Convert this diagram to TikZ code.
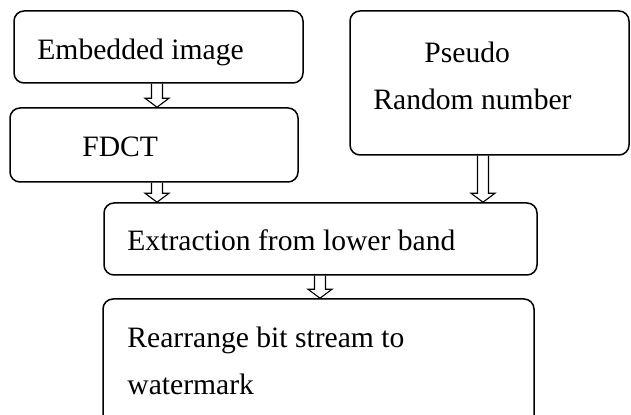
\documentclass[tikz,border=0pt]{standalone}
\usepackage{fontspec}
\setmainfont{Liberation Serif}
\usetikzlibrary{calc}

\tikzset{
  box/.style={draw, line width=0.75pt, rounded corners=5pt, inner sep=0pt},
  lbl/.style={anchor=base west, inner sep=0pt, font=\fontsize{14.8}{18}\selectfont},
  hollow/.style={draw, line width=0.55pt, line join=miter}
}

% open block arrow pointing down, from #1 to #2
\newcommand{\downblock}[2]{%
  \draw[hollow] ($(#1)+(-2.75pt,0pt)$) -- ($(#2)+(-2.75pt,4.5pt)$)
    -- ($(#2)+(-6pt,4.5pt)$) -- (#2) -- ($(#2)+(6pt,4.5pt)$)
    -- ($(#2)+(2.75pt,4.5pt)$) -- ($(#1)+(2.75pt,0pt)$);
}

\begin{document}
\begin{tikzpicture}[x=0.5pt,y=-0.5pt]
\useasboundingbox (0,0) rectangle (631,415);

% boxes
\node[box, minimum width=144.5pt, minimum height=36pt] (embed) at (158.5,47) {};
\node[box, minimum width=144pt, minimum height=37pt] (fdct) at (154,145) {};
\node[box, minimum width=139.5pt, minimum height=72pt] (prng) at (489.5,83) {};
\node[box, minimum width=216.5pt, minimum height=36pt] (extract) at (320.5,239) {};
\node[box, minimum width=215.5pt, minimum height=64pt] (rearr) at (318.5,363) {};

% labels
\node[lbl] (t-embed) at (37,60) {Embedded image};
\node[lbl] (t-fdct) at (82,157) {FDCT};
\node[lbl] (t-prng1) at (424,63) {Pseudo};
\node[lbl] (t-prng2) at (373,110) {Random number};
\node[lbl] (t-extract) at (127,251) {Extraction from lower band};
\node[lbl] (t-rearr1) at (127,348) {Rearrange bit stream to};
\node[lbl] (t-rearr2) at (127,395) {watermark};

% flow
\downblock{157,0 |- embed.south}{157,0 |- fdct.north}
\downblock{157,0 |- fdct.south}{157,0 |- extract.north}
\downblock{483,0 |- prng.south}{483,0 |- extract.north}
\downblock{320,0 |- extract.south}{320,0 |- rearr.north}
\end{tikzpicture}
\end{document}
